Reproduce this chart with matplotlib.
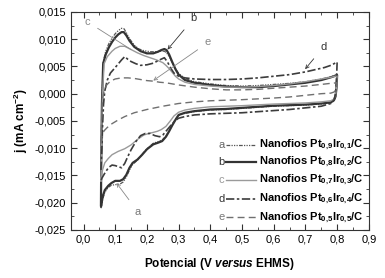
import numpy as np
import matplotlib
matplotlib.use("Agg")
import matplotlib.pyplot as plt
from matplotlib.ticker import MultipleLocator, FuncFormatter

plt.rcParams['font.family'] = ['Liberation Sans', 'DejaVu Sans']
plt.rcParams['mathtext.fontset'] = 'custom'
plt.rcParams['mathtext.rm'] = 'Liberation Sans:bold'
plt.rcParams['mathtext.bf'] = 'Liberation Sans:bold'
plt.rcParams['mathtext.it'] = 'Liberation Sans:bold:italic'

# voltammograms: anodic sweep then cathodic sweep
a_up_x = [0.055, 0.056, 0.058, 0.062, 0.07, 0.08, 0.09, 0.1, 0.11, 0.12, 0.128, 0.135, 0.145, 0.16, 0.175,
          0.19, 0.21, 0.23, 0.245, 0.255, 0.262, 0.27, 0.28, 0.29, 0.3, 0.32, 0.35, 0.4, 0.45, 0.5, 0.55,
          0.6, 0.65, 0.7, 0.75, 0.78, 0.8]
a_up_y = [-0.021, -0.012, -0.002, 0.0058, 0.0078, 0.0092, 0.0102, 0.011, 0.0116, 0.012, 0.0119, 0.0112,
          0.0101, 0.0089, 0.0082, 0.0079, 0.0077, 0.0077, 0.0078, 0.0078, 0.0075, 0.0068, 0.0057, 0.0046,
          0.0037, 0.0028, 0.0022, 0.0018, 0.0015, 0.0014, 0.0015, 0.0017, 0.0019, 0.0022, 0.0027, 0.0031, 0.0035]
a_dn_x = [0.8, 0.798, 0.795, 0.79, 0.78, 0.75, 0.7, 0.65, 0.6, 0.55, 0.5, 0.45, 0.4, 0.35, 0.32, 0.3, 0.29,
          0.28, 0.27, 0.26, 0.248, 0.235, 0.22, 0.2, 0.185, 0.17, 0.155, 0.145, 0.135, 0.125, 0.115, 0.1,
          0.088, 0.078, 0.067, 0.06, 0.056]
a_dn_y = [0.0035, 0.001, -0.0006, -0.0013, -0.0017, -0.0019, -0.0021, -0.0022, -0.0023, -0.0025, -0.0027,
          -0.0029, -0.003, -0.0033, -0.0036, -0.004, -0.0047, -0.0057, -0.0068, -0.0078, -0.0085, -0.0088,
          -0.0091, -0.0101, -0.0111, -0.0122, -0.013, -0.014, -0.0153, -0.0162, -0.0166, -0.0167, -0.0168,
          -0.0172, -0.0181, -0.0195, -0.021]

b_up_x = [0.055, 0.056, 0.058, 0.062, 0.07, 0.08, 0.09, 0.1, 0.11, 0.12, 0.127, 0.135, 0.145, 0.16, 0.18,
          0.2, 0.22, 0.235, 0.245, 0.255, 0.262, 0.27, 0.28, 0.29, 0.3, 0.32, 0.35, 0.4, 0.45, 0.5, 0.55,
          0.6, 0.65, 0.7, 0.75, 0.78, 0.8]
b_up_y = [-0.0205, -0.012, -0.002, 0.0055, 0.0072, 0.0085, 0.0095, 0.0103, 0.0109, 0.0113, 0.0113, 0.0107,
          0.0097, 0.0086, 0.0078, 0.0074, 0.0074, 0.0077, 0.008, 0.0082, 0.008, 0.0072, 0.0058, 0.0045,
          0.0035, 0.0025, 0.002, 0.0016, 0.0013, 0.0012, 0.0012, 0.0014, 0.0017, 0.002, 0.0025, 0.003, 0.0034]
b_dn_x = [0.8, 0.798, 0.795, 0.79, 0.78, 0.75, 0.7, 0.65, 0.6, 0.55, 0.5, 0.45, 0.4, 0.35, 0.32, 0.3, 0.29,
          0.28, 0.27, 0.26, 0.248, 0.235, 0.22, 0.2, 0.185, 0.17, 0.155, 0.145, 0.135, 0.125, 0.115, 0.1,
          0.088, 0.078, 0.067, 0.06, 0.056]
b_dn_y = [0.0034, 0.001, -0.0005, -0.0012, -0.0016, -0.0018, -0.002, -0.0021, -0.0022, -0.0024, -0.0026,
          -0.0028, -0.0029, -0.0032, -0.0035, -0.0039, -0.0048, -0.0058, -0.0069, -0.0079, -0.0087, -0.009,
          -0.0093, -0.0102, -0.0112, -0.0121, -0.0127, -0.0136, -0.0149, -0.0157, -0.016, -0.016, -0.0164,
          -0.0169, -0.0177, -0.019, -0.0205]

c_up_x = [0.055, 0.057, 0.06, 0.065, 0.075, 0.09, 0.1, 0.115, 0.13, 0.15, 0.17, 0.19, 0.21, 0.23, 0.25,
          0.26, 0.27, 0.28, 0.29, 0.3, 0.32, 0.35, 0.4, 0.45, 0.5, 0.55, 0.6, 0.65, 0.7, 0.75, 0.78, 0.8]
c_up_y = [-0.016, -0.008, 0.0, 0.0055, 0.0068, 0.0078, 0.0083, 0.0087, 0.0087, 0.0081, 0.0075, 0.007,
          0.0066, 0.0062, 0.0057, 0.0052, 0.0046, 0.0039, 0.0032, 0.0027, 0.0021, 0.0017, 0.0014, 0.0012,
          0.0012, 0.0013, 0.0015, 0.0018, 0.0022, 0.0027, 0.003, 0.0033]
c_dn_x = [0.8, 0.798, 0.795, 0.79, 0.78, 0.75, 0.7, 0.6, 0.5, 0.4, 0.35, 0.32, 0.3, 0.285, 0.275, 0.26,
          0.245, 0.233, 0.22, 0.2, 0.19, 0.17, 0.15, 0.13, 0.109, 0.09, 0.078, 0.067, 0.06, 0.055]
c_dn_y = [0.0033, 0.001, -0.0003, -0.001, -0.0013, -0.0015, -0.0017, -0.0019, -0.0022, -0.0024, -0.0027,
          -0.003, -0.0034, -0.0041, -0.0049, -0.006, -0.0066, -0.0069, -0.0071, -0.0074, -0.0076, -0.0084,
          -0.0094, -0.0101, -0.0106, -0.0112, -0.0119, -0.0127, -0.014, -0.016]

d_up_x = [0.055, 0.058, 0.06, 0.063, 0.067, 0.075, 0.085, 0.1, 0.11, 0.12, 0.13, 0.14, 0.15, 0.165, 0.18,
          0.2, 0.22, 0.24, 0.255, 0.265, 0.275, 0.285, 0.3, 0.32, 0.35, 0.4, 0.45, 0.5, 0.55, 0.6, 0.65,
          0.7, 0.73, 0.76, 0.78, 0.8]
d_up_y = [-0.014, -0.01, -0.006, -0.002, 0.0005, 0.0025, 0.0038, 0.0048, 0.0055, 0.0062, 0.0068, 0.0063,
          0.0059, 0.0055, 0.0052, 0.0053, 0.0056, 0.0062, 0.0066, 0.0058, 0.0047, 0.0038, 0.0032, 0.0029,
          0.0027, 0.0026, 0.0026, 0.0027, 0.0029, 0.0032, 0.0035, 0.004, 0.0044, 0.0048, 0.0052, 0.0058]
d_dn_x = [0.8, 0.798, 0.795, 0.79, 0.78, 0.75, 0.7, 0.65, 0.6, 0.55, 0.5, 0.45, 0.4, 0.35, 0.32, 0.3,
          0.29, 0.28, 0.27, 0.26, 0.25, 0.24, 0.225, 0.21, 0.195, 0.18, 0.165, 0.15, 0.14, 0.13, 0.12,
          0.11, 0.1, 0.09, 0.08, 0.07, 0.063, 0.058, 0.055]
d_dn_y = [0.0058, 0.0025, 0.0, -0.0012, -0.0018, -0.0023, -0.0026, -0.0029, -0.0031, -0.0033, -0.0035,
          -0.0036, -0.0037, -0.0039, -0.0042, -0.0045, -0.0049, -0.0055, -0.0062, -0.0069, -0.0076,
          -0.0079, -0.0077, -0.0073, -0.0073, -0.0077, -0.0088, -0.0103, -0.0115, -0.0128, -0.0136,
          -0.0134, -0.0132, -0.0131, -0.0135, -0.0143, -0.015, -0.0155, -0.016]

e_up_x = [0.055, 0.057, 0.06, 0.065, 0.073, 0.085, 0.1, 0.12, 0.14, 0.16, 0.18, 0.2, 0.22, 0.24, 0.26,
          0.28, 0.3, 0.35, 0.4, 0.45, 0.5, 0.55, 0.6, 0.65, 0.7, 0.75, 0.78, 0.8]
e_up_y = [-0.009, -0.005, -0.001, 0.0005, 0.0016, 0.0023, 0.0027, 0.0029, 0.0029, 0.0028, 0.0026, 0.0024,
          0.0023, 0.0021, 0.002, 0.0018, 0.0016, 0.0012, 0.0009, 0.0007, 0.0007, 0.0008, 0.001, 0.0012,
          0.0014, 0.0017, 0.0019, 0.002]
e_dn_x = [0.8, 0.798, 0.795, 0.79, 0.78, 0.75, 0.7, 0.65, 0.6, 0.5, 0.4, 0.35, 0.3, 0.25, 0.2, 0.16,
          0.13, 0.11, 0.09, 0.075, 0.065, 0.06, 0.057, 0.055]
e_dn_y = [0.002, 0.0012, 0.0006, 0.0003, 0.0001, 0.0, -0.0003, -0.0006, -0.0008, -0.0011, -0.0013,
          -0.0015, -0.0018, -0.0023, -0.0029, -0.0035, -0.0042, -0.0048, -0.0055, -0.0062, -0.0068,
          -0.0074, -0.0082, -0.009]

letters = ['a', 'b', 'c', 'd', 'e']
labels = [r'Nanofios Pt$_{0{,}9}$Ir$_{0{,}1}$/C',
          r'Nanofios Pt$_{0{,}8}$Ir$_{0{,}2}$/C',
          r'Nanofios Pt$_{0{,}7}$Ir$_{0{,}3}$/C',
          r'Nanofios Pt$_{0{,}6}$Ir$_{0{,}4}$/C',
          r'Nanofios Pt$_{0{,}5}$Ir$_{0{,}5}$/C']
curves = [(a_up_x, a_up_y, a_dn_x, a_dn_y),
          (b_up_x, b_up_y, b_dn_x, b_dn_y),
          (c_up_x, c_up_y, c_dn_x, c_dn_y),
          (d_up_x, d_up_y, d_dn_x, d_dn_y),
          (e_up_x, e_up_y, e_dn_x, e_dn_y)]
colors = ['#555555', '#333333', '#9a9a9a', '#3c3c3c', '#707070']
styles = [(0, (3, 1, 1, 1, 1, 1, 1, 1)), '-', '-', (0, (5, 1.5, 1.5, 1.5)), (0, (5, 3))]
widths = [0.9, 1.6, 1.0, 1.2, 1.0]

fig = plt.figure(figsize=(3.85, 2.78), dpi=100)
ax = fig.add_axes([0.184, 0.173, 0.774, 0.784])

for (ux, uy, dx, dy), col, ls, lw in zip(curves, colors, styles, widths):
    ax.plot(ux + dx, uy + dy, color=col, linestyle=ls, linewidth=lw)

ax.set_xlim(-0.04, 0.9)
ax.set_ylim(-0.025, 0.015)
ax.xaxis.set_major_locator(MultipleLocator(0.1))
ax.xaxis.set_minor_locator(MultipleLocator(0.05))
ax.yaxis.set_major_locator(MultipleLocator(0.005))
ax.yaxis.set_minor_locator(MultipleLocator(0.0025))
ax.xaxis.set_major_formatter(FuncFormatter(lambda v, p: f'{v:.1f}'.replace('.', ',').replace('-0,0', '0,0')))
ax.yaxis.set_major_formatter(FuncFormatter(lambda v, p: f'{v:.3f}'.replace('.', ',').replace('-0,000', '0,000')))
ax.tick_params(which='both', direction='in', top=True, right=True, labelsize=8, color='#333333')
ax.tick_params(which='major', length=4)
ax.tick_params(which='minor', length=2)
for s in ax.spines.values():
    s.set_linewidth(0.8)
    s.set_color('#333333')

ax.set_xlabel(r'Potencial (V $\mathit{versus}$ EHMS)', fontsize=8.5, fontweight='bold', labelpad=8)
ax.set_ylabel(r'j (mA cm$^{-2}$)', fontsize=8.5, fontweight='bold', labelpad=3)

# letter annotations
arrow_kw = dict(arrowstyle='-', lw=0.6)
ax.annotate('c', xy=(0.15, 0.0081), xytext=(0.012, 0.0132), fontsize=8, color='#888888',
            ha='center', va='center', arrowprops=dict(arrow_kw, color='#888888', shrinkA=4, shrinkB=0))
ax.annotate('b', xy=(0.265, 0.0081), xytext=(0.347, 0.0138), fontsize=8, color='#333333',
            ha='center', va='center',
            arrowprops=dict(arrowstyle='->', lw=0.6, color='#333333', shrinkA=4, shrinkB=0, mutation_scale=6))
ax.annotate('e', xy=(0.22, 0.0024), xytext=(0.393, 0.0094), fontsize=8, color='#888888',
            ha='center', va='center',
            arrowprops=dict(arrowstyle='->', lw=0.6, color='#888888', shrinkA=4, shrinkB=0, mutation_scale=6))
ax.annotate('d', xy=(0.699, 0.0045), xytext=(0.756, 0.0085), fontsize=8, color='#333333',
            ha='center', va='center',
            arrowprops=dict(arrowstyle='->', lw=0.6, color='#333333', shrinkA=4, shrinkB=0, mutation_scale=6))
ax.annotate('a', xy=(0.104, -0.0164), xytext=(0.172, -0.0217), fontsize=8, color='#777777',
            ha='center', va='center',
            arrowprops=dict(arrowstyle='->', lw=0.6, color='#888888', shrinkA=4, shrinkB=0, mutation_scale=6))

# legend drawn by hand: letter, line sample, label
leg_y = [0.39, 0.311, 0.229, 0.142, 0.058]
letter_cols = ['#666666', '#333333', '#999999', '#333333', '#777777']
for i in range(5):
    y = leg_y[i]
    ax.text(0.515, y, letters[i], transform=ax.transAxes, fontsize=8, color=letter_cols[i],
            ha='right', va='center')
    ax.plot([0.522, 0.623], [y, y], transform=ax.transAxes, color=colors[i], linestyle=styles[i],
            linewidth=widths[i])
    ax.text(0.631, y, labels[i], transform=ax.transAxes, fontsize=8, fontweight='bold',
            ha='left', va='center')

fig.savefig('out.png', dpi=100)
